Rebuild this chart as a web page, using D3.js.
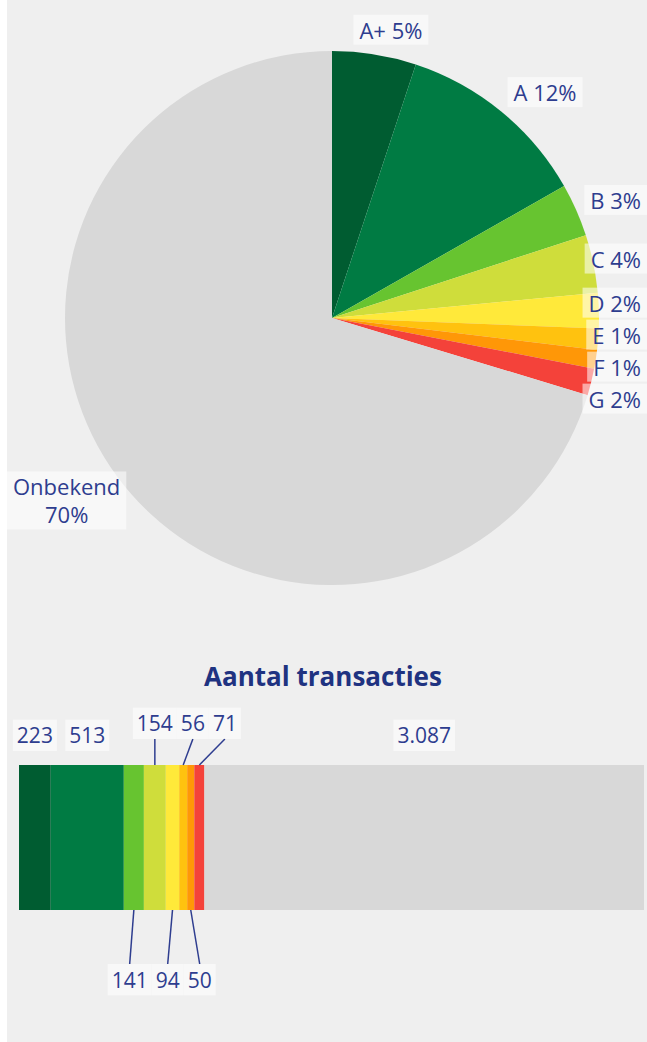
<!DOCTYPE html>
<html>
<head>
<meta charset="utf-8">
<script src="https://cdn.jsdelivr.net/npm/d3@7"></script>
<style>
  body { margin: 0; background: #fff; }
  svg { display: block; font-family: "Open Sans", sans-serif; }
</style>
</head>
<body>
<svg id="chart" width="647" height="1042"></svg>
<script>
// energielabels en aantal transacties
var categories = ["A+", "A", "B", "C", "D", "E", "F", "G", "Onbekend"];
var counts = [223, 513, 141, 154, 94, 56, 50, 71, 3087];
var colours = ["#005c31", "#007b43", "#67c430", "#cfdd3b", "#ffe93a", "#ffc20f", "#ff9707", "#f4423a", "#d8d8d8"];
var barTitle = "Aantal transacties";

var svg = d3.select("#chart"),
    W = +svg.attr("width"),
    H = +svg.attr("height"),
    panelLeft = 7,
    textColour = "#2e3d8f";

var data = categories.map(function (c, i) { return {name: c, count: counts[i]}; });
var total = d3.sum(counts);
var pct = d3.format(".0%");
var nl = d3.formatLocale({decimal: ",", thousands: ".", grouping: [3], currency: ["€", ""]});
var fmtCount = nl.format(",d");

var colour = d3.scaleOrdinal().domain(categories).range(colours);

svg.append("rect")
    .attr("x", panelLeft).attr("y", 0)
    .attr("width", W - panelLeft).attr("height", H)
    .attr("fill", "#efefef");

// ---------- pie ----------
var cx = 332, cy = 318, r = 267;
var pieG = svg.append("g").attr("transform", "translate(" + cx + "," + cy + ")");

var arcs = d3.pie().sort(null).value(function (d) { return d.count; })(data);
var arc = d3.arc().innerRadius(0).outerRadius(r);

pieG.selectAll("path.slice")
  .data(arcs)
  .enter().append("path")
    .attr("class", "slice")
    .attr("d", arc)
    .attr("fill", function (d) { return colour(d.data.name); });

// spread overlapping labels symmetrically along one axis
function relax(items, gap) {
  items.sort(function (a, b) { return a.y - b.y; });
  for (var it = 0; it < 300; it++) {
    var moved = false;
    for (var i = 1; i < items.length; i++) {
      var a = items[i - 1], b = items[i];
      var overlap = (a.y + a.h / 2 + gap) - (b.y - b.h / 2);
      if (overlap > 0.01) { a.y -= overlap / 2; b.y += overlap / 2; moved = true; }
    }
    if (!moved) break;
  }
}

function makeLabel(parent, lines, size, padX, padY, lineH) {
  var g = parent.append("g");
  var rect = g.append("rect").attr("fill", "#ffffff").attr("fill-opacity", 0.55);
  var t = g.append("text")
      .attr("text-anchor", "middle")
      .attr("fill", textColour)
      .style("font-size", size + "px");
  lines.forEach(function (l, i) {
    t.append("tspan").attr("x", 0).attr("dy", i ? lineH : 0).text(l);
  });
  var bb = t.node().getBBox();
  rect.attr("x", bb.x - padX).attr("y", bb.y - padY)
      .attr("width", bb.width + 2 * padX).attr("height", bb.height + 2 * padY);
  return {g: g, bb: bb, w: bb.width + 2 * padX, h: bb.height + 2 * padY};
}

var pieLabels = arcs.map(function (d) {
  var a = (d.startAngle + d.endAngle) / 2;
  var p = pct(d.data.count / total);
  var lines = d.data.name.length > 2 ? [d.data.name, p] : [d.data.name + " " + p];
  var lab = makeLabel(svg, lines, 22, 6, 0, 28);
  var sx = Math.sin(a), sy = -Math.cos(a);
  var px = cx + sx * (r + 10), py = cy + sy * (r + 10);
  lab.x = px + Math.sign(sx) * Math.min(1, Math.abs(sx) * 2.5) * lab.w / 2;
  lab.y = py + sy * lab.h / 2;
  lab.x = Math.max(panelLeft + lab.w / 2, Math.min(W - lab.w / 2, lab.x));
  lab.side = sx >= 0 ? 1 : -1;
  return lab;
});

relax(pieLabels.filter(function (l) { return l.side > 0; }), 2);
relax(pieLabels.filter(function (l) { return l.side < 0; }), 2);

pieLabels.forEach(function (l) {
  l.g.attr("transform", "translate(" + (l.x - (l.bb.x + l.bb.width / 2)) + "," + (l.y - (l.bb.y + l.bb.height / 2)) + ")");
});

// ---------- stacked bar ----------
var barTop = 765, barBottom = 910;
var x = d3.scaleLinear().domain([0, total]).range([19, 644]);
var ends = d3.cumsum(counts);
var segs = data.map(function (d, i) {
  return {name: d.name, count: d.count, x0: x(ends[i] - d.count), x1: x(ends[i])};
});

svg.append("text")
    .attr("x", 323).attr("y", 686)
    .attr("text-anchor", "middle")
    .attr("fill", "#1f3381")
    .style("font-size", "26px")
    .style("font-weight", "bold")
    .text(barTitle);

svg.append("g").selectAll("rect")
  .data(segs)
  .enter().append("rect")
    .attr("x", function (d) { return d.x0; })
    .attr("y", barTop)
    .attr("width", function (d) { return d.x1 - d.x0; })
    .attr("height", barBottom - barTop)
    .attr("fill", function (d) { return colour(d.name); });

var lineG = svg.append("g");
var above = [], below = [], small = 0;
segs.forEach(function (s) {
  var lab = makeLabel(svg, [fmtCount(s.count)], 21, 4, 1.7, 0);
  lab.mid = (s.x0 + s.x1) / 2;
  // relax() works on y/h, so keep the horizontal position there
  lab.y = lab.mid; lab.hh = lab.h; lab.h = lab.w;
  if (s.x1 - s.x0 >= 30) {
    lab.pos = "top"; lab.lead = false;
    above.push(lab);
  } else {
    lab.lead = true;
    if (small % 2 === 0) { lab.pos = "bottom"; below.push(lab); }
    else { lab.pos = "raised"; above.push(lab); }
    small++;
  }
});

relax(below.slice(), 0);

// small labels above the bar: push to the right
var prevRight = -Infinity;
above.filter(function (l) { return l.lead; })
  .sort(function (a, b) { return a.mid - b.mid; })
  .forEach(function (l) {
    if (l.y - l.w / 2 < prevRight) l.y = prevRight + l.w / 2;
    prevRight = l.y + l.w / 2;
  });

above.concat(below).forEach(function (l) {
  var lx = l.y, h = l.hh, ly;
  if (l.pos === "top") ly = barTop - 14 - h / 2;
  else if (l.pos === "raised") ly = barTop - 26 - h / 2;
  else ly = barBottom + 54 + h / 2;
  l.g.attr("transform", "translate(" + (lx - (l.bb.x + l.bb.width / 2)) + "," + (ly - (l.bb.y + l.bb.height / 2)) + ")");
  if (l.lead) {
    var up = l.pos !== "bottom";
    lineG.append("line")
        .attr("x1", l.mid).attr("y1", up ? barTop : barBottom)
        .attr("x2", lx).attr("y2", up ? ly + h / 2 : ly - h / 2)
        .attr("stroke", textColour)
        .attr("stroke-width", 1.5);
  }
});
</script>
</body>
</html>
